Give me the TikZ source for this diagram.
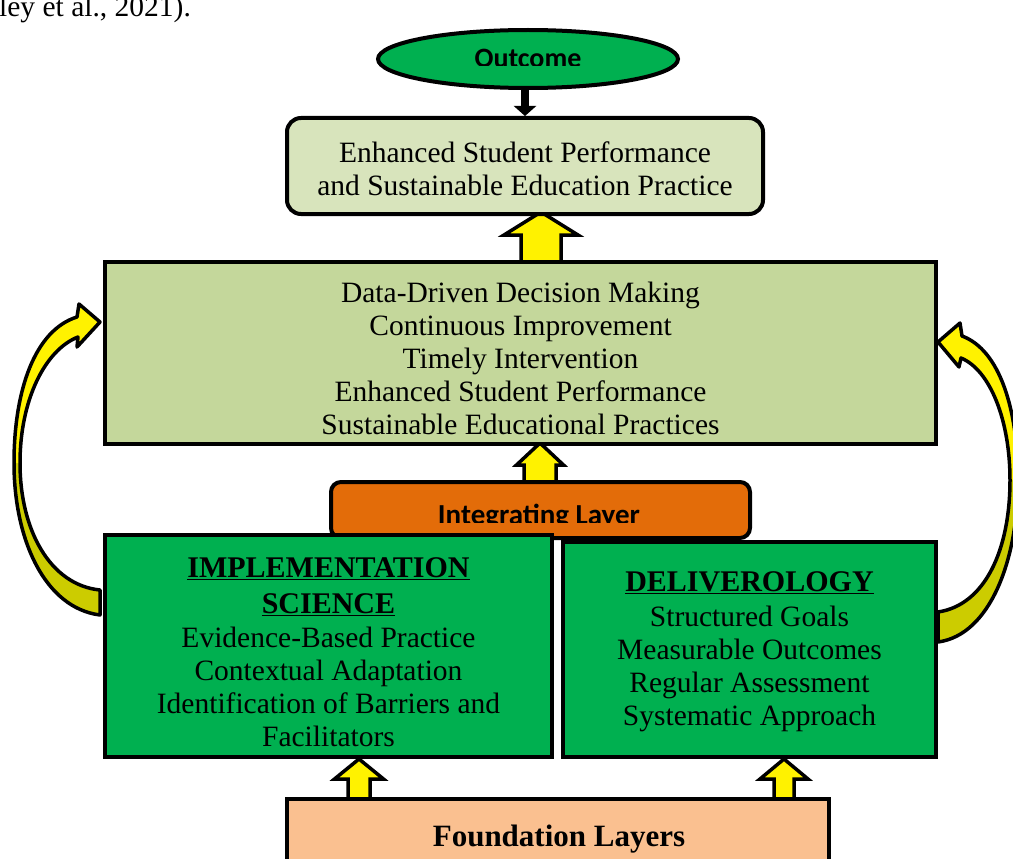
\documentclass[tikz,border=0pt]{standalone}
\usepackage{fontspec}
\setmainfont{Liberation Serif}
\newfontfamily\calib{Carlito}
\usetikzlibrary{shapes.geometric,arrows.meta,calc}
\definecolor{outgreen}{HTML}{00B050}
\definecolor{topfill}{HTML}{D8E4BC}
\definecolor{midfill}{HTML}{C4D79B}
\definecolor{orangefill}{HTML}{E36C09}
\definecolor{peachfill}{HTML}{FAC090}
\definecolor{darkyellow}{HTML}{CCCC00}
\tikzset{
  box/.style={draw=black, line width=4pt, inner sep=0pt, align=center},
  body/.style={font=\fontsize{29.5}{33}\selectfont, align=center, inner sep=0pt},
  yarrow/.style={draw=black, line width=3.5pt, fill=yellow, line join=miter},
  curveout/.style={draw=black, line width=3.5pt, line join=round},
}
\newcommand\blockup[6]{%
  \draw[yarrow] ({#1-#4},#2) -- ({#1-#4},#6) -- ({#1-#5},#6) -- (#1,#3) -- ({#1+#5},#6) -- ({#1+#4},#6) -- ({#1+#4},#2) -- cycle;}
\newcommand\hd[1]{\fontsize{30}{36}\selectfont\bfseries\underline{#1}}
\begin{document}
\begin{tikzpicture}[x=1pt,y=-1pt]
\clip (0,0) rectangle (1013,859);
\fill[white] (0,0) rectangle (1013,859);

% cropped text at top
\node[anchor=base west, inner sep=0pt, font=\fontsize{29.5}{33}\selectfont] (cite) at (-1,17) {ley et al., 2021).};

% block arrows
\blockup{541}{262}{212}{20}{37}{235}
\blockup{540}{482}{443}{16}{23.5}{465}
\blockup{359}{800}{759}{11}{24.5}{779}
\blockup{784}{800}{759}{10}{24}{779}

% outcome
\node[box, ellipse, fill=outgreen, minimum width=300pt, minimum height=58pt] (outcome) at (528,59) {};
\begin{scope}
\clip (378,30) rectangle (679,66);
\node[anchor=base, inner sep=0pt, font=\calib\bfseries\fontsize{28}{30}\selectfont] (outtext) at (528,67) {Outcome};
\end{scope}

% top box
\node[box, rounded corners=14pt, fill=topfill, minimum width=476pt, minimum height=96pt] (top) at (525,166) {};
\node[body] (toptext) at ($(top.center)+(0,3)$) {Enhanced Student Performance\\and Sustainable Education Practice};

\draw[line width=8pt, -{Triangle[width=22pt,length=10pt]}] (top.north |- outcome.south) -- (top.north);

% middle box
\node[box, fill=midfill, minimum width=831pt, minimum height=182pt] (mid) at (520.5,353) {};
\node[body] (midtext) at ($(mid.center)+(0,5)$)
  {Data-Driven Decision Making\\Continuous Improvement\\Timely Intervention\\Enhanced Student Performance\\Sustainable Educational Practices};

% integrating layer
\node[box, rounded corners=10pt, fill=orangefill, minimum width=419pt, minimum height=56pt] (integ) at (540.5,510) {};
\begin{scope}
\clip (331,482) rectangle (750,522);
\node[anchor=base, inner sep=0pt, font=\calib\bfseries\fontsize{29}{30}\selectfont] (integtext) at (539,524) {Integrating Layer};
\end{scope}

% green boxes
\node[box, fill=outgreen, minimum width=447pt, minimum height=222pt] (impl) at (328.5,646) {};
\node[body] (impltext) at ($(impl.center)+(0,6)$)
  {\hd{IMPLEMENTATION}\\[3pt]\hd{SCIENCE}\\[1pt]Evidence-Based Practice\\Contextual Adaptation\\Identification of Barriers and\\Facilitators};
\node[box, fill=outgreen, minimum width=373pt, minimum height=215pt] (deliv) at (749.5,649.5) {};
\node[body] (delivtext) at ($(deliv.center)+(0,2)$)
  {\hd{DELIVEROLOGY}\\[2pt]Structured Goals\\Measurable Outcomes\\Regular Assessment\\Systematic Approach};

% foundation
\node[box, fill=peachfill, minimum width=542pt, minimum height=80pt] (found) at (558,839) {};
\node[anchor=base, inner sep=0pt, font=\fontsize{31}{33}\selectfont\bfseries] (foundtext) at (559,846) {Foundation Layers};

% left curved arrow
\fill[darkyellow] (100,615) .. controls (45,608) and (14,540) .. (14,463) -- (20,463) .. controls (20,530) and (50,585) .. (100,590) -- cycle;
\fill[yellow] (14,463) .. controls (14,390) and (35,330) .. (77,317) -- (79,304) -- (100,322) -- (77,347) -- (78,337) .. controls (45,350) and (20,400) .. (20,463) -- cycle;
\draw[curveout] (100,615) .. controls (45,608) and (14,540) .. (14,463)
  .. controls (14,390) and (35,330) .. (77,317)
  -- (79,304) -- (100,322) -- (77,347) -- (78,337)
  .. controls (45,350) and (20,400) .. (20,463)
  .. controls (20,530) and (50,585) .. (100,590) -- cycle;

% right curved arrow
\fill[darkyellow] (938,642) .. controls (990,635) and (1018,560) .. (1018,480) -- (1010,480) .. controls (1010,550) and (985,605) .. (938,612) -- cycle;
\fill[yellow] (1018,480) .. controls (1018,410) and (1000,350) .. (962,336) -- (960,323) -- (938,342) -- (959,367) -- (961,358) .. controls (990,370) and (1010,420) .. (1010,480) -- cycle;
\draw[curveout] (938,642) .. controls (990,635) and (1018,560) .. (1018,480)
  .. controls (1018,410) and (1000,350) .. (962,336)
  -- (960,323) -- (938,342) -- (959,367) -- (961,358)
  .. controls (990,370) and (1010,420) .. (1010,480)
  .. controls (1010,550) and (985,605) .. (938,612) -- cycle;
\end{tikzpicture}
\end{document}
